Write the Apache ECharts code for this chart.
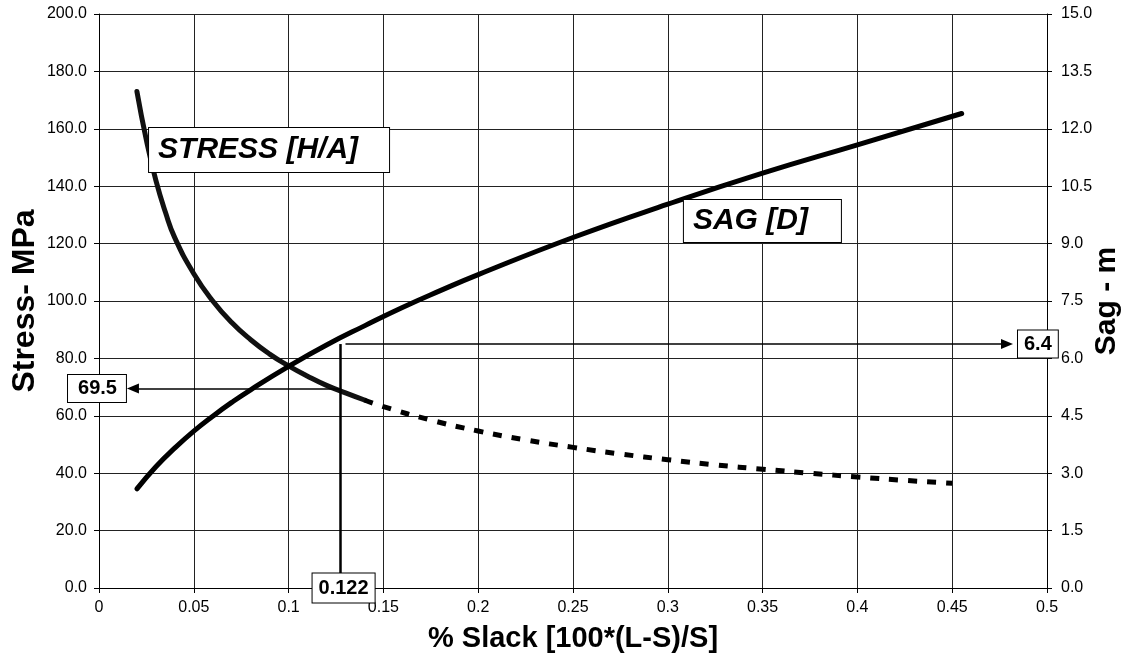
<!DOCTYPE html>
<html>
<head>
<meta charset="utf-8">
<script src="https://cdn.jsdelivr.net/npm/echarts@6/dist/echarts.min.js"></script>
<style>
html,body{margin:0;padding:0;background:#fff;}
#chart{width:1127px;height:666px;}
</style>
</head>
<body>
<div id="chart"></div>
<script>
// ---- data ----
const xTicks = { min: 0, max: 0.5, interval: 0.05 };
const stressAxis = { min: 0, max: 200, interval: 20 };
const sagAxis = { min: 0, max: 15, interval: 1.5 };

// Stress [MPa] – solid part
const stressSolidSlack = [0.02, 0.025, 0.03, 0.035, 0.04, 0.05, 0.06, 0.07, 0.08, 0.09, 0.1, 0.11, 0.12, 0.13, 0.14];
const stressSolidValue = [173, 156, 142, 131, 122, 109.5, 100, 92.5, 86.5, 81.5, 77.4, 73.8, 70.6, 68, 65.5];
// Stress [MPa] – dashed part
const stressDashSlack = [0.14, 0.15, 0.175, 0.2, 0.225, 0.25, 0.275, 0.3, 0.325, 0.35, 0.375, 0.4, 0.425, 0.45];
const stressDashValue = [65.5, 63.2, 58.5, 54.7, 51.6, 49, 46.7, 44.7, 42.9, 41.4, 40, 38.7, 37.5, 36.5];
// Sag [m]
const sagSlack = [0.02, 0.03, 0.04, 0.05, 0.06, 0.07, 0.08, 0.1, 0.12, 0.14, 0.16, 0.18, 0.2, 0.25, 0.3, 0.35, 0.4, 0.455];
const sagValue = [2.59, 3.17, 3.66, 4.1, 4.49, 4.85, 5.18, 5.79, 6.35, 6.85, 7.33, 7.77, 8.19, 9.16, 10.03, 10.84, 11.58, 12.4];

// Operating point annotation
const opSlack = 0.127;          // position of the vertical marker
const opSlackLabel = '0.122';
const opStress = 69.5;
const opStressLabel = '69.5';
const opSagLevel = 85;          // on stress-axis units
const opSagLabel = '6.4';
const arrowLeftEnd = 0.0179;
const arrowRightStart = 0.13;
const arrowRightEnd = 0.4789;

// Curve name labels (anchor: left-middle of box)
const stressNamePos = [0.0264, 152.6];
const sagNamePos = [0.3085, 127.9];

const FONT = "'Liberation Sans', Arial, Helvetica, sans-serif";
const zip = (a, b) => a.map((v, i) => [v, b[i]]);

const boxLabel = {
  color: '#000', fontFamily: FONT, fontWeight: 'bold',
  backgroundColor: '#fff', borderColor: '#000', borderWidth: 1
};

const chart = echarts.init(document.getElementById('chart'), null, { renderer: 'canvas' });
chart.setOption({
  backgroundColor: '#fff',
  animation: false,
  grid: { left: 99, right: 80, top: 14, bottom: 78, containLabel: false, outerBoundsMode: 'none' },
  xAxis: {
    type: 'value', min: xTicks.min, max: xTicks.max, interval: xTicks.interval,
    name: '% Slack [100*(L-S)/S]', nameLocation: 'middle', nameGap: 36,
    nameTextStyle: { fontFamily: FONT, fontWeight: 'bold', fontSize: 29, color: '#000' },
    axisLine: { show: true, onZero: false, lineStyle: { color: '#000', width: 1 } },
    axisTick: { show: true, length: 5, lineStyle: { color: '#000' } },
    axisLabel: { fontFamily: FONT, fontSize: 16, color: '#000', margin: 12 },
    splitLine: { show: true, lineStyle: { color: '#222', width: 1 } }
  },
  yAxis: [
    {
      type: 'value', min: stressAxis.min, max: stressAxis.max, interval: stressAxis.interval,
      position: 'left',
      name: 'Stress- MPa', nameLocation: 'middle', nameGap: 58, nameRotate: 90, nameMoveOverlap: false,
      nameTextStyle: { fontFamily: FONT, fontWeight: 'bold', fontSize: 32, color: '#000' },
      axisLine: { show: true, lineStyle: { color: '#000', width: 1 } },
      axisTick: { show: true, length: 5, lineStyle: { color: '#000' } },
      axisLabel: { fontFamily: FONT, fontSize: 16, color: '#000', margin: 12,
        formatter: v => v.toFixed(1) },
      splitLine: { show: true, lineStyle: { color: '#222', width: 1 } }
    },
    {
      type: 'value', min: sagAxis.min, max: sagAxis.max, interval: sagAxis.interval,
      position: 'right',
      name: 'Sag - m', nameLocation: 'middle', nameGap: 45, nameRotate: 90, nameMoveOverlap: false,
      nameTextStyle: { fontFamily: FONT, fontWeight: 'bold', fontSize: 30, color: '#000' },
      axisLine: { show: true, lineStyle: { color: '#000', width: 1 } },
      axisTick: { show: true, length: 5, lineStyle: { color: '#000' } },
      axisLabel: { fontFamily: FONT, fontSize: 16, color: '#000', margin: 14,
        formatter: v => v.toFixed(1) },
      splitLine: { show: false }
    }
  ],
  series: [
    {
      name: 'Stress', type: 'line', yAxisIndex: 0, smooth: true, symbol: 'none',
      data: zip(stressSolidSlack, stressSolidValue),
      lineStyle: { color: '#111', width: 5, cap: 'round' }, z: 3
    },
    {
      name: 'Stress (extrapolated)', type: 'line', yAxisIndex: 0, smooth: true, symbol: 'none',
      data: zip(stressDashSlack, stressDashValue),
      lineStyle: { color: '#000', width: 5, type: [9, 10], cap: 'butt' }, z: 3
    },
    {
      name: 'Sag', type: 'line', yAxisIndex: 1, smooth: true, symbol: 'none',
      data: zip(sagSlack, sagValue),
      lineStyle: { color: '#000', width: 5, cap: 'round' }, z: 3
    },
    {
      name: 'annotations', type: 'line', yAxisIndex: 0, data: [], clip: false, z: 5,
      markLine: {
        silent: true, animation: false, precision: 3,
        data: [
          [
            { coord: [opSlack, 0], symbol: 'none', lineStyle: { color: '#000', width: 2.5, type: 'solid' }, label: { show: false } },
            { coord: [opSlack, opSagLevel], symbol: 'none' }
          ],
          [
            { coord: [opSlack, opStress], symbol: 'none', lineStyle: { color: '#000', width: 1.5, type: 'solid' } },
            { coord: [arrowLeftEnd, opStress], symbol: 'triangle', symbolSize: [10, 12],
              label: { show: true, position: 'end', distance: 7, formatter: opStressLabel,
                fontSize: 20, padding: [4, 9, 3, 10], ...boxLabel } }
          ],
          [
            { coord: [arrowRightStart, opSagLevel], symbol: 'none', lineStyle: { color: '#000', width: 1.5, type: 'solid' } },
            { coord: [arrowRightEnd, opSagLevel], symbol: 'triangle', symbolSize: [10, 12],
              label: { show: true, position: 'end', distance: 11, formatter: opSagLabel,
                fontSize: 20, padding: [4, 6, 3, 6], ...boxLabel } }
          ]
        ]
      },
      markPoint: {
        silent: true, animation: false, symbol: 'rect', symbolSize: 0,
        itemStyle: { color: 'rgba(0,0,0,0)' },
        data: [
          { coord: [opSlack + 0.002, 0],
            label: { show: true, position: 'inside', formatter: opSlackLabel,
              fontSize: 20, padding: [5, 6, 4, 6], ...boxLabel } },
          { coord: stressNamePos,
            label: { show: true, position: 'right', distance: 0, formatter: 'STRESS [H/A]',
              fontSize: 30, fontStyle: 'italic', lineHeight: 32, width: 222, align: 'left',
              padding: [6, 9, 6, 9], ...boxLabel } },
          { coord: sagNamePos,
            label: { show: true, position: 'right', distance: 0, formatter: 'SAG [D]',
              fontSize: 30, fontStyle: 'italic', lineHeight: 32, width: 139, align: 'left',
              padding: [5, 9, 5, 9], ...boxLabel } }
        ]
      }
    }
  ]
});
</script>
</body>
</html>
